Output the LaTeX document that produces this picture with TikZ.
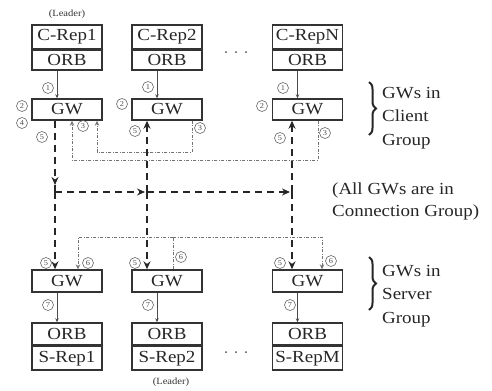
\documentclass[tikz,border=0pt]{standalone}
\usepackage{fontspec}
\setmainfont{Liberation Serif}[FakeStretch=1.12]
\usetikzlibrary{arrows.meta,decorations.pathreplacing}
\begin{document}
\begin{tikzpicture}[x=1bp,y=-1bp,
  box/.style={draw=black!80,line width=1.4bp,minimum width=70bp,inner sep=0pt,
    font=\fontsize{17}{17}\selectfont,text=black!85},
  circ/.style={circle,draw=black!60,line width=0.6bp,inner sep=0pt,minimum size=11bp,
    font=\fontsize{7.5}{7.5}\selectfont,text=black!70},
  thinarr/.style={draw=black!70,line width=0.7bp,-{Stealth[length=4bp,width=3.5bp]}},
  bigdash/.style={draw=black!85,line width=2.2bp,dash pattern=on 7bp off 5bp},
  bigtip/.style={-{Stealth[length=8bp,width=7bp]}},
  dotl/.style={draw=black!55,line width=0.8bp,dash pattern=on 3bp off 1.5bp on 1bp off 1.5bp},
  dottip/.style={-{Stealth[length=5bp,width=4.5bp]}},
  lbl/.style={font=\fontsize{17}{23.5}\selectfont,text=black!85,align=left,inner sep=0pt},
  small/.style={font=\fontsize{9.5}{9.5}\selectfont,text=black!80,inner sep=0pt},
  dotdot/.style={circle,fill=black!70,inner sep=0pt,minimum size=2bp}
]
\useasboundingbox (0,0) rectangle (492,390);

% client replicas
\foreach \n/\x/\t in {1/67/C-Rep1,2/167/C-Rep2,N/307.5/C-RepN}{
  \node[box,minimum height=24bp] (crep\n) at (\x,37) {\t};
  \node[box,minimum height=19.5bp] (corb\n) at (\x,60.25) {ORB};
  \node[box,minimum height=21bp] (cgw\n) at (\x,109.5) {GW};
}
% server replicas
\foreach \n/\x/\t in {1/67/S-Rep1,2/167/S-Rep2,M/307.5/S-RepM}{
  \node[box,minimum height=22bp] (sgw\n) at (\x,281) {GW};
  \node[box,minimum height=22bp] (sorb\n) at (\x,334) {ORB};
  \node[box,minimum height=23.5bp] (srep\n) at (\x,358.25) {\t};
}
\node[small] (lead1) at (67,14) {(Leader)};
\node[small] (lead2) at (171,382) {(Leader)};

% ellipses
\foreach \i/\x in {1/226,2/236,3/246}{
  \node[dotdot] (cd\i) at (\x,52) {};
  \node[dotdot] (sd\i) at (\x,352) {};
}

% ORB <-> GW thin arrows
\foreach \n in {1,2,N}{
  \draw[thinarr] ([xshift=-10bp]corb\n.south) -- ([xshift=-10bp]cgw\n.north);
}
\foreach \n in {1,2,M}{
  \draw[thinarr] ([xshift=-10bp]sgw\n.south) -- ([xshift=-10bp]sorb\n.north);
}

% coordinates
\coordinate (b1) at (55,192);
\coordinate (b2) at (147,192);
\coordinate (bN) at (292,192);
\coordinate (a1) at (55,185);
\coordinate (d1) at (97,152);
\coordinate (d2) at (192,152);
\coordinate (e1) at (72,160);
\coordinate (eN) at (318,160);
\coordinate (f1) at (78,237);
\coordinate (f2) at (173,237);
\coordinate (fM) at (322,237);

% client dotted lines
\draw[dotl,dottip] (cgw2.south -| d2) -- (d2) -- (d1) -- (cgw1.south -| d1);
\draw[dotl,dottip] (cgwN.south -| eN) -- (eN) -- (e1) -- (cgw1.south -| e1);
% server dotted lines
\draw[dotl] (sgw2.north -| f2) -- (f2);
\draw[dotl,dottip] (f2) -- (f1) -- (sgw1.north -| f1);
\draw[dotl,dottip] (f2) -- (fM) -- (sgwM.north -| fM);

% connection group dashed lines
\draw[bigdash,bigtip] (cgw1.south -| b1) -- (a1);
\draw[bigdash] (a1) -- (b1);
\draw[bigdash,bigtip] (b1) -- ([xshift=-2bp]b2);
\draw[bigdash,bigtip] (b2) -- ([xshift=-2bp]bN);
\draw[bigdash,bigtip] (b1) -- (sgw1.north -| b1);
\draw[bigdash,bigtip] (b2) -- (cgw2.south -| b2);
\draw[bigdash,bigtip] (b2) -- (sgw2.north -| b2);
\draw[bigdash,bigtip] (bN) -- (cgwN.south -| bN);
\draw[bigdash,bigtip] (bN) -- (sgwM.north -| bN);

% circled numbers, client side
\node[circ] (c1a) at (48,88) {1};
\node[circ] (c1b) at (148,87) {1};
\node[circ] (c1c) at (283,88) {1};
\node[circ] (c2a) at (22,106) {2};
\node[circ] (c2b) at (122,104) {2};
\node[circ] (c2c) at (262,106) {2};
\node[circ] (c4a) at (22,123) {4};
\node[circ] (c5a) at (42,137) {5};
\node[circ] (c3a) at (83,126) {3};
\node[circ] (c5b) at (135,131) {5};
\node[circ] (c3b) at (200,128) {3};
\node[circ] (c5c) at (280,138) {5};
\node[circ] (c3c) at (325,133) {3};
% circled numbers, server side
\node[circ] (s5a) at (46,263) {5};
\node[circ] (s6a) at (88,263) {6};
\node[circ] (s5b) at (135,263) {5};
\node[circ] (s6b) at (181,257) {6};
\node[circ] (s5c) at (280,263) {5};
\node[circ] (s6c) at (331,261) {6};
\node[circ] (s7a) at (48,305) {7};
\node[circ] (s7b) at (148,305) {7};
\node[circ] (s7c) at (290,305) {7};

% braces and group labels
\coordinate (bc1) at (369,82);
\coordinate (bc2) at (369,135);
\draw[black!85,line width=2bp,decorate,decoration={brace,amplitude=7bp}] (bc1) -- (bc2);
\node[lbl,anchor=west] (cgrp) at (382,118) {GWs in\\Client\\Group};
\coordinate (bs1) at (369,257);
\coordinate (bs2) at (369,310);
\draw[black!85,line width=2bp,decorate,decoration={brace,amplitude=7bp}] (bs1) -- (bs2);
\node[lbl,anchor=west] (sgrp) at (382,296) {GWs in\\Server\\Group};
\node[lbl,anchor=west,font=\fontsize{17}{22}\selectfont] (conn) at (332,201) {(All GWs are in\\Connection Group)};
\end{tikzpicture}
\end{document}
